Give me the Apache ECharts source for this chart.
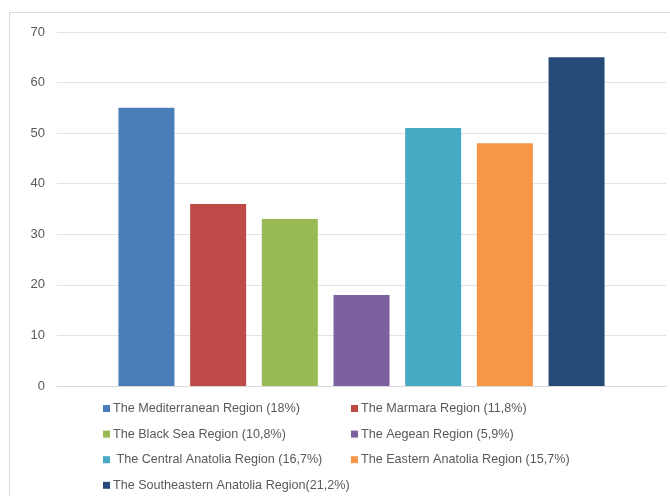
<!DOCTYPE html>
<html>
<head>
<meta charset="utf-8">
<script src="https://cdn.jsdelivr.net/npm/echarts@6/dist/echarts.min.js"></script>
<style>
  html, body { margin: 0; padding: 0; background: #fff; }
  #chart { width: 670px; height: 496px; }
</style>
</head>
<body>
<div id="chart"></div>
<script>
// regions and their values
var regions = [
    'The Mediterranean Region (18%)',
    'The Marmara Region (11,8%)',
    'The Black Sea Region (10,8%)',
    'The Aegean Region (5,9%)',
    ' The Central Anatolia Region (16,7%)',
    'The Eastern Anatolia Region (15,7%)',
    'The Southeastern Anatolia Region(21,2%)'
];
var values = [55, 36, 33, 18, 51, 48, 65];
var colors = ['#4a7ebb', '#be4b48', '#98b954', '#7d60a0', '#46aac5', '#f79646', '#254a77'];

// legend columns as in the original
var legendLeft = [regions[0], regions[2], regions[4], regions[6]];
var legendRight = [regions[1], regions[3], regions[5]];

var chart = echarts.init(document.getElementById('chart'));

var series = regions.map(function (name, i) {
    return {
        name: name,
        type: 'bar',
        barWidth: 56,
        barGap: '28%',
        itemStyle: { color: colors[i] },
        data: [values[i]]
    };
});

var legendCommon = {
    orient: 'vertical',
    top: 402,
    height: 120,
    padding: 0,
    itemWidth: 7,
    itemHeight: 7,
    itemGap: 12.6,
    icon: 'rect',
    selectedMode: false,
    textStyle: {
        fontFamily: 'Liberation Sans, Arial, sans-serif',
        fontSize: 12.6,
        color: '#595959',
        padding: [0, 0, 0, -2]
    }
};

var option = {
    animation: false,
    color: colors,
    graphic: [{
        type: 'rect',
        shape: { x: 9.5, y: 12.5, width: 700, height: 600 },
        style: { fill: 'none', stroke: '#d9d9d9', lineWidth: 1 },
        silent: true
    }],
    legend: [
        Object.assign({ left: 103, data: legendLeft }, legendCommon),
        Object.assign({ left: 351, data: legendRight }, legendCommon)
    ],
    grid: {
        left: 57,
        right: 4,
        top: 32,
        bottom: 110
    },
    xAxis: {
        type: 'category',
        data: [''],
        axisLine: { show: true, lineStyle: { color: '#d9d9d9' } },
        axisTick: { show: false },
        axisLabel: { show: false }
    },
    yAxis: {
        type: 'value',
        min: 0,
        max: 70,
        interval: 10,
        axisLine: { show: false },
        axisTick: { show: false },
        axisLabel: {
            margin: 12,
            fontFamily: 'Liberation Sans, Arial, sans-serif',
            fontSize: 13,
            color: '#595959'
        },
        splitLine: { lineStyle: { color: '#e3e3e3' } }
    },
    series: series
};
chart.setOption(option);
</script>
</body>
</html>
